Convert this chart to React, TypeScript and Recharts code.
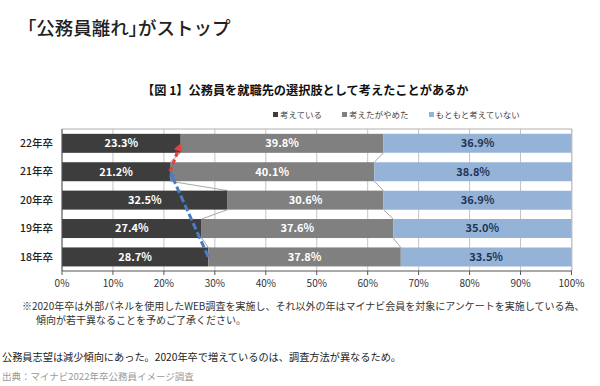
import React from 'react';
import { BarChart, Bar, XAxis, YAxis, CartesianGrid, LabelList, ReferenceLine } from 'recharts';

// ---------- data ----------
const YEARS = ['22年卒', '21年卒', '20年卒', '19年卒', '18年卒'];
const THINKING = [23.3, 21.2, 32.5, 27.4, 28.7];
const GAVE_UP = [39.8, 40.1, 30.6, 37.6, 37.8];
const NEVER = [36.9, 38.8, 36.9, 35.0, 33.5];
const X_TICKS = [0, 10, 20, 30, 40, 50, 60, 70, 80, 90, 100];
const BAND_EDGES = [0, 1, 2, 3, 4, 5];
const SERIES_NAMES = ['考えている', '考えたがやめた', 'もともと考えていない'];
const SERIES_KEYS = ['thinking', 'gaveUp', 'never'];
const SERIES_COLORS = ['#3d3d3d', '#808080', '#95b3d7'];
const LABEL_COLORS = ['#ffffff', '#ffffff', '#1f3558'];

const data = YEARS.map((year, i) => ({
  year,
  thinking: THINKING[i],
  gaveUp: GAVE_UP[i],
  never: NEVER[i],
}));

// ---------- layout ----------
const W = 600;
const H = 386;
const MARGIN = { top: 128, right: 28, bottom: 95, left: 12 };
const TOP_AXIS_H = 1;
const X_AXIS_H = 20;
const Y_AXIS_W = 50;
const PLOT_H = H - MARGIN.top - MARGIN.bottom - TOP_AXIS_H - X_AXIS_H;
const STEP = PLOT_H / data.length;
const FONT = '"Noto Sans CJK JP", "Noto Sans", sans-serif';

// bar shape that also draws the Excel-style "series line" to the next bar
const makeSeriesShape = (keys: string[]) => (props: any) => {
  const { x, y, width, height, fill, payload } = props;
  const idx = typeof props.index === 'number' ? props.index : data.findIndex((d) => d.year === payload.year);
  const own = payload[keys[keys.length - 1]];
  const ppu = own ? width / own : 0;
  const before = keys.slice(0, -1).reduce((s, k) => s + payload[k], 0);
  const origin = x - before * ppu;
  const end = x + width;
  const next: any = data[idx + 1];
  let line = null;
  if (next) {
    const nextEnd = origin + keys.reduce((s, k) => s + next[k], 0) * ppu;
    line = (
      <line x1={end} y1={y + height} x2={nextEnd} y2={y + STEP} stroke="#a8a8a8" strokeWidth={1} />
    );
  }
  return (
    <g>
      <rect x={x} y={y} width={width} height={height} fill={fill} />
      {line}
    </g>
  );
};

const makeArrow = (color: string, sw: number, dash: string, head: number) => (p: any) => {
  const { x1, y1, x2, y2 } = p;
  const ang = Math.atan2(y2 - y1, x2 - x1);
  const c = Math.cos(ang);
  const s = Math.sin(ang);
  const bx = x2 - head * c;
  const by = y2 - head * s;
  const hw = head * 0.55;
  const pts = `${x2},${y2} ${bx + hw * s},${by - hw * c} ${bx - hw * s},${by + hw * c}`;
  return (
    <g>
      <line x1={x1} y1={y1} x2={bx} y2={by} stroke={color} strokeWidth={sw} strokeDasharray={dash} />
      <polygon points={pts} fill={color} />
    </g>
  );
};

const abs = (style: React.CSSProperties): React.CSSProperties => ({
  position: 'absolute',
  whiteSpace: 'nowrap',
  fontFamily: FONT,
  margin: 0,
  ...style,
});

const palt: React.CSSProperties = { fontFeatureSettings: '"palt"' };

export default function App() {
  return (
    <div style={{ position: 'absolute', left: 0, top: 0, width: W, height: H, background: '#fff', overflow: 'hidden' }}>
      <BarChart
        width={W}
        height={H}
        layout="vertical"
        data={data}
        margin={MARGIN}
        barCategoryGap="17%"
        style={{ position: 'absolute', left: 0, top: 0 }}
      >
        <CartesianGrid horizontal={false} stroke="#c4c4c4" />
        <XAxis
          type="number"
          domain={[0, 100]}
          ticks={X_TICKS}
          tickFormatter={(v: number) => `${v}%`}
          height={X_AXIS_H}
          tickSize={4}
          tickMargin={5}
          axisLine={{ stroke: '#555' }}
          tickLine={{ stroke: '#555' }}
          tick={{ fontSize: 10, fill: '#333', fontFamily: FONT }}
          interval={0}
        />
        <XAxis
          xAxisId="top"
          orientation="top"
          type="number"
          domain={[0, 100]}
          height={TOP_AXIS_H}
          tick={false}
          tickLine={false}
          axisLine={{ stroke: '#b0b0b0' }}
        />
        <YAxis
          type="category"
          dataKey="year"
          width={Y_AXIS_W}
          tickLine={false}
          tickSize={0}
          tickMargin={9}
          axisLine={{ stroke: '#555' }}
          tick={{ fontSize: 10.5, fill: '#222', fontFamily: FONT, fontWeight: 500 }}
        />
        <YAxis
          yAxisId="edges"
          type="number"
          domain={[0, 5]}
          ticks={BAND_EDGES}
          width={0}
          mirror
          axisLine={false}
          tickSize={3}
          tickLine={{ stroke: '#555' }}
          tickFormatter={() => ''}
          interval={0}
        />
        {SERIES_KEYS.map((k, i) => (
          <Bar
            key={k}
            dataKey={k}
            name={SERIES_NAMES[i]}
            stackId="s"
            fill={SERIES_COLORS[i]}
            isAnimationActive={false}
            shape={i < 2 ? makeSeriesShape(SERIES_KEYS.slice(0, i + 1)) : undefined}
          >
            <LabelList
              dataKey={k}
              position="center"
              formatter={(v: any) => `${Number(v).toFixed(1)}%`}
              style={{ fill: LABEL_COLORS[i], fontSize: 11, fontWeight: 700, fontFamily: FONT }}
            />
          </Bar>
        ))}
        <ReferenceLine
          segment={[
            { x: THINKING[4], y: YEARS[4] },
            { x: THINKING[1], y: YEARS[1] },
          ]}
          shape={makeArrow('#4a7cc4', 3, '7 3', 6)}
        />
        <ReferenceLine
          segment={[
            { x: THINKING[1], y: YEARS[1] },
            { x: THINKING[0], y: YEARS[0] },
          ]}
          shape={makeArrow('#e0443e', 3, '5 3', 8)}
        />
      </BarChart>

      <div style={abs({ left: 27, top: 16, fontSize: 18.5, lineHeight: '22px', color: '#222', fontWeight: 500 })}>
        <span style={palt}>「</span>公務員離れ<span style={palt}>」</span>がストップ
      </div>
      <div style={abs({ left: 142, top: 82, fontSize: 12.2, lineHeight: '16px', color: '#111', fontWeight: 700 })}>
        【図 1】公務員を就職先の選択肢として考えたことがあるか
      </div>
      <div style={abs({ left: 273, top: 108, display: 'flex', gap: 20, fontSize: 8.5, lineHeight: '12px', color: '#444' })}>
        {SERIES_NAMES.map((n, i) => (
          <span key={n} style={{ display: 'flex', alignItems: 'center' }}>
            <span style={{ display: 'inline-block', width: 5, height: 5, background: SERIES_COLORS[i], marginRight: 2 }} />
            {n}
          </span>
        ))}
      </div>
      <div style={abs({ left: 22, top: 299, fontSize: 10, lineHeight: '14px', color: '#333' })}>
        ※2020年卒は外部パネルを使用したWEB調査を実施し、それ以外の年はマイナビ会員を対象にアンケートを実施している為、
      </div>
      <div style={abs({ left: 36, top: 313, fontSize: 10, lineHeight: '14px', color: '#333' })}>
        傾向が若干異なることを予めご了承ください。
      </div>
      <div style={abs({ left: 2, top: 350, fontSize: 10.2, lineHeight: '14px', color: '#222' })}>
        公務員志望は減少傾向にあった。2020年卒で増えているのは、調査方法が異なるため。
      </div>
      <div style={abs({ left: 2, top: 369, fontSize: 9.5, lineHeight: '14px', color: '#9a9a9a' })}>
        出典：マイナビ2022年卒公務員イメージ調査
      </div>
    </div>
  );
}
